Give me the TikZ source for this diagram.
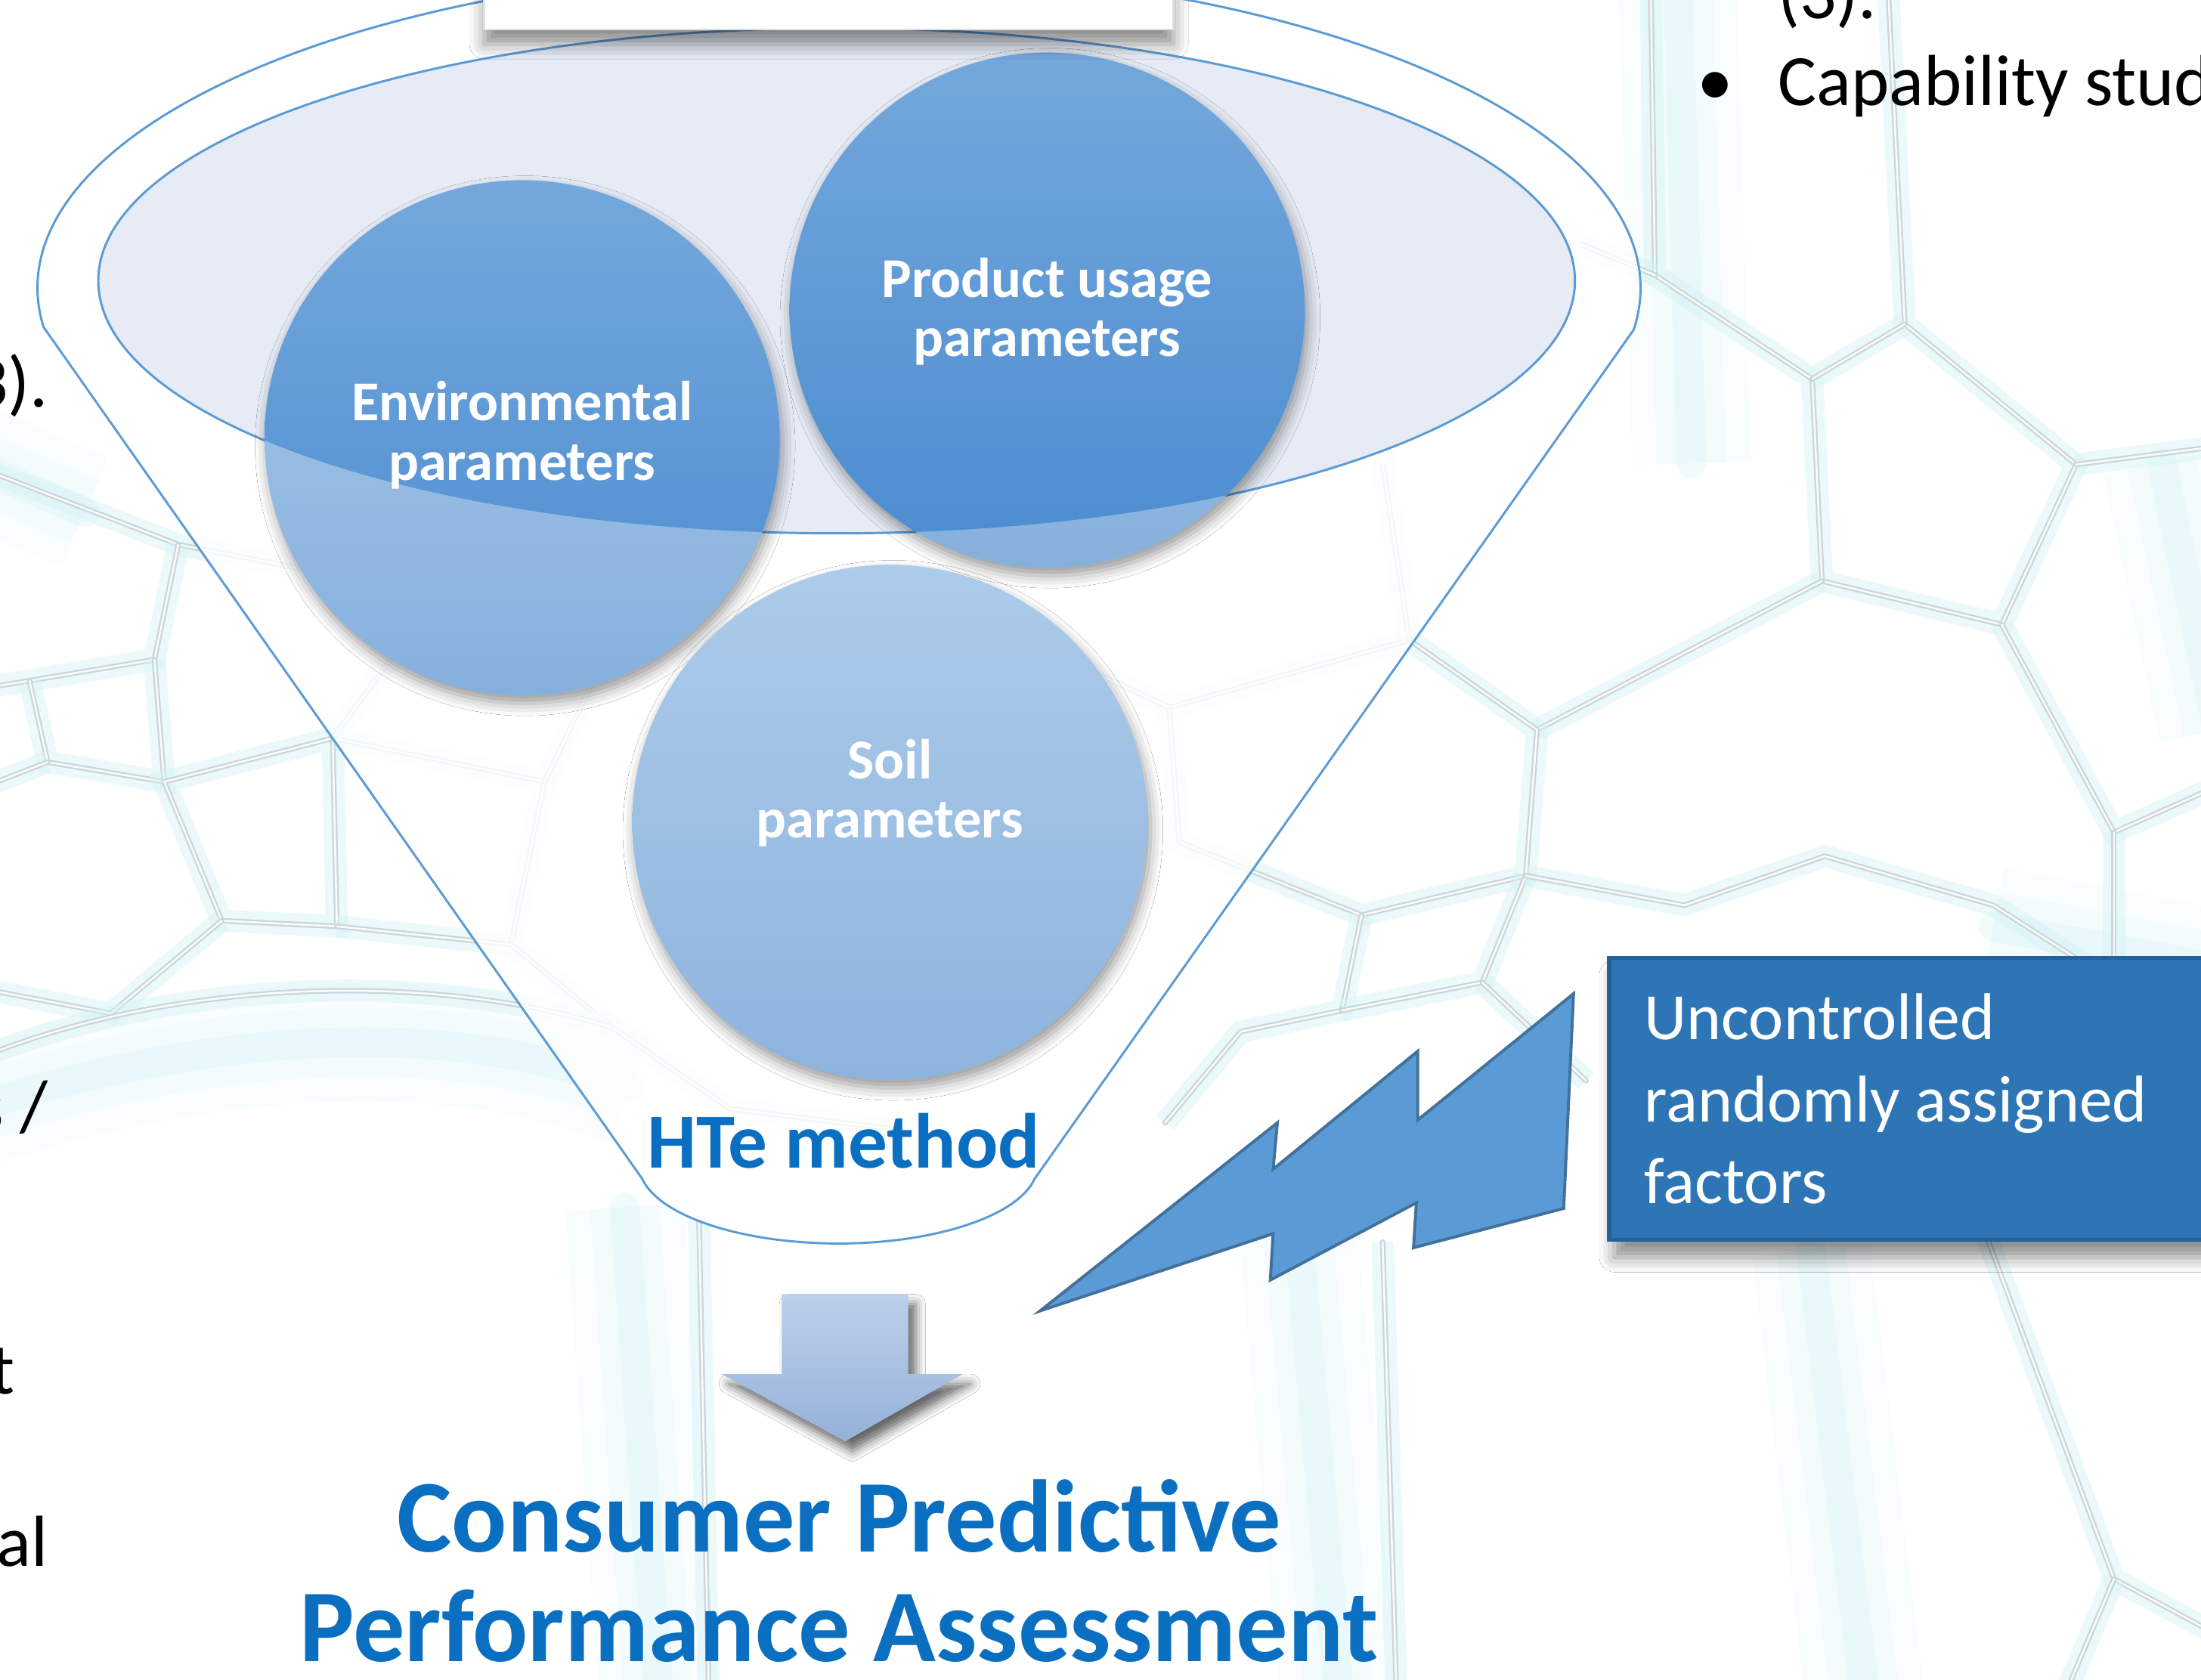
\documentclass[tikz,border=0pt]{standalone}
\usepackage{fontspec}
\setmainfont{Carlito}
\usetikzlibrary{shadows.blur}

\definecolor{funnelline}{HTML}{5B9BD5}
\definecolor{rimfill}{HTML}{E4E9F4}
\definecolor{darktop}{HTML}{74A8DC}
\definecolor{darkbottom}{HTML}{4A8BD0}
\definecolor{lighttop}{HTML}{A8CAEA}
\definecolor{lightbottom}{HTML}{86B0DC}
\definecolor{soiltop}{HTML}{ADCBEA}
\definecolor{soilbottom}{HTML}{8CB4DE}
\definecolor{arrowtop}{HTML}{BCD0EC}
\definecolor{arrowbottom}{HTML}{96B1D8}
\definecolor{boltblue}{HTML}{5B9BD5}
\definecolor{boltedge}{HTML}{41719C}
\definecolor{boxblue}{HTML}{2E75B6}
\definecolor{boxedge}{HTML}{24609A}
\definecolor{titleblue}{HTML}{0B6FC1}
\definecolor{foamgrey}{HTML}{CAD6D8}
\definecolor{foamhaze}{HTML}{D3F3F7}

\newcommand\bubblefont{\fontsize{11.4}{12}\selectfont\bfseries}
\newcommand\methodfont{\fontsize{15.8}{18}\selectfont\bfseries}
\newcommand\titlefont{\fontsize{20.9}{22.2}\selectfont\bfseries}
\newcommand\boxfont{\fontsize{13.4}{16.6}\selectfont}
\newcommand\slidefont{\fontsize{14.65}{17.5}\selectfont}

\tikzset{
  wall/.style={draw=foamgrey, line width=1.1pt, line join=round, line cap=round,
    preaction={draw=foamhaze, line width=4.5pt, draw opacity=.45},
    postaction={draw=white, line width=.4pt, draw opacity=.9}},
  haze/.style={draw=foamhaze, line width=6pt, line cap=round, draw opacity=.3,
    preaction={draw=foamhaze, line width=14pt, draw opacity=.18},
    preaction={draw=foamhaze, line width=24pt, draw opacity=.1}},
  bubble/.style={circle, minimum size=3.67cm, inner sep=0pt,
    blur shadow={shadow xshift=.6pt, shadow yshift=-1.6pt, shadow blur radius=2.5pt, shadow opacity=40}},
  bubbletext/.style={text=white, font=\bubblefont, align=center, inner sep=0pt},
  factorbox/.style={fill=boxblue, draw=boxedge, line width=.8pt, text=white, font=\boxfont,
    align=flush left, text width=4.1cm, inner xsep=.25cm, minimum height=2.01cm,
    blur shadow={shadow xshift=1pt, shadow yshift=-3.5pt, shadow blur radius=3pt, shadow opacity=45}},
  slidetext/.style={font=\slidefont, text=black, inner sep=0pt},
}

\begin{document}
\begin{tikzpicture}[x=0.01cm, y=-0.01cm]
  \path[use as bounding box, clip] (0,0) rectangle (1568,1197);
  \fill[white] (0,0) rectangle (1568,1197);

  % cyan glow of the foam
  \draw[haze] (1195,-20) -- (1205,330);
  \draw[haze] (-20,790) .. controls (150,735) and (320,725) .. (450,775);
  \draw[haze] (445,860) -- (470,1220);
  \draw[haze] (925,880) -- (955,1220);
  \draw[haze] (1290,890) -- (1330,1220);
  \draw[haze] (1420,660) -- (1580,690);
  \draw[haze] (-20,330) -- (60,365);
  \draw[haze] (1540,330) -- (1580,520);

  % foam walls, right
  \draw[wall] (1176,-10) -- (1179,196) -- (1291,270) -- (1298,414) -- (1426,445) -- (1479,331) -- (1357,231) -- (1345,-10);
  \draw[wall] (1291,270) -- (1357,231);
  \draw[wall] (1479,331) -- (1580,318);
  \draw[wall] (1426,445) -- (1506,593) -- (1580,560);
  \draw[wall] (1506,593) -- (1506,700);
  \draw[wall] (1298,414) -- (1095,520);
  \draw[wall] (1095,520) -- (1004,456) -- (833,504) -- (840,600) -- (970,652) -- (1087,624) -- cycle;
  \draw[wall] (1179,196) -- (1023,131) -- (940,60);
  \draw[wall] (1004,456) -- (985,330) -- (1023,131);
  \draw[wall] (833,504) -- (760,470);
  \draw[wall] (970,652) -- (956,720) -- (884,735) -- (830,800);
  \draw[wall] (956,720) -- (1056,700) -- (1087,624);
  \draw[wall] (1056,700) -- (1130,770);
  \draw[wall] (1087,624) -- (1200,645) -- (1300,610) -- (1420,645) -- (1506,700);
  \draw[wall] (1416,883) -- (1506,1125) -- (1580,1165);
  \draw[wall] (1506,1125) -- (1470,1210);
  \draw[wall] (985,885) -- (995,1210);
  \draw[wall] (498,870) -- (505,1210);
  % foam walls, left
  \draw[wall] (-10,335) -- (127,388) -- (265,415);
  \draw[wall] (127,388) -- (110,470) -- (21,485) -- (-10,490);
  \draw[wall] (21,485) -- (34,543) -- (117,557) -- (110,470);
  \draw[wall] (34,543) -- (-10,560);
  \draw[wall] (117,557) -- (158,656) -- (240,660) -- (237,526) -- cycle;
  \draw[wall] (237,526) -- (300,440) -- (265,415);
  \draw[wall] (237,526) -- (388,557) -- (364,673) -- (240,660);
  \draw[wall] (158,656) -- (79,722) -- (-10,705);
  \draw[wall] (388,557) -- (430,470);
  \draw[wall] (364,673) -- (436,732) -- (520,790) -- (640,805);
  \draw[wall] (-10,752) .. controls (120,700) and (300,690) .. (436,732);

  % funnel body
  \filldraw[fill=white, fill opacity=.8, draw=funnelline, line width=.45pt]
    (31,233) arc[start angle=173, end angle=367.5, x radius=571, y radius=228]
    -- (737,840) arc[start angle=10.3, end angle=169.7, x radius=142, y radius=56] -- cycle;

  % rim of the funnel
  \draw[white, line width=5pt, draw opacity=.8] (596,200) ellipse[x radius=526, y radius=180];
  \filldraw[fill=rimfill, fill opacity=.9, draw=funnelline, line width=.45pt]
    (596,200) ellipse[x radius=526, y radius=180];

  % parameter circles
  \node[bubble, top color=lighttop, bottom color=lightbottom] (env) at (372,312) {};
  \node[bubble, top color=lighttop, bottom color=lightbottom] (usage) at (746,221) {};
  \node[bubble, top color=soiltop, bottom color=soilbottom] (soil) at (634,586) {};

  % darker where they sit in the rim
  \begin{scope}
    \clip (596,200) ellipse[x radius=526, y radius=180];
    \shade[top color=darktop, bottom color=darkbottom] (env.center) circle[radius=183.5];
    \shade[top color=darktop, bottom color=darkbottom] (usage.center) circle[radius=183.5];
  \end{scope}

  \node[bubbletext] (envlabel) at (372,310) {Environmental\\parameters};
  \node[bubbletext] (usagelabel) at (746,222) {Product usage\\parameters};
  \node[bubbletext] (soillabel) at (634,565) {Soil\\parameters};
  \node[font=\methodfont, text=titleblue, anchor=base, inner sep=0pt] (method) at (601,832) {HTe method};

  % card at the top edge
  \filldraw[fill=white, draw=black!12,
    blur shadow={shadow xshift=0pt, shadow yshift=-3pt, shadow blur radius=3pt, shadow opacity=45}]
    (345,-40) rectangle (836,21);

  % result arrow
  \shade[top color=arrowtop, bottom color=arrowbottom,
    blur shadow={shadow xshift=1.5pt, shadow yshift=-2pt, shadow blur radius=2pt, shadow opacity=60}]
    (557,922) -- (647,922) -- (647,979) -- (686,979) -- (602,1027) -- (514,979) -- (557,979) -- cycle;

  % disturbance bolt
  \filldraw[fill=boltblue, draw=boltedge, line width=.6pt]
    (741,934) -- (910,800) -- (907,833) -- (1010,749) -- (1010,798) -- (1121,708)
    -- (1114,861) -- (1007,889) -- (1009,857) -- (905,912) -- (907,879) -- cycle;

  \node[factorbox, anchor=north west] (factors) at (1145,681) {Uncontrolled\\randomly assigned\\factors};

  \node[font=\titlefont, text=titleblue, align=center, anchor=south, inner sep=0pt] (outcome)
    at (598,1185) {Consumer Predictive\\Performance Assessment};

  % slide text around the figure
  \node[slidetext, anchor=base west] (cont) at (1266,13) {(3).};
  \node[slidetext, anchor=base] (bullet) at (1222,75) {\textbullet};
  \node[slidetext, anchor=base west] (capab) at (1266,75) {Capability stud};
  \node[slidetext, anchor=base east] (leftone) at (35,290) {3).};
  \node[slidetext, anchor=base east] (lefttwo) at (35,806) {s /};
  \node[slidetext, anchor=base east] (leftthree) at (11,993) {t};
  \node[slidetext, anchor=base east] (leftfour) at (35,1116) {al};
\end{tikzpicture}
\end{document}
